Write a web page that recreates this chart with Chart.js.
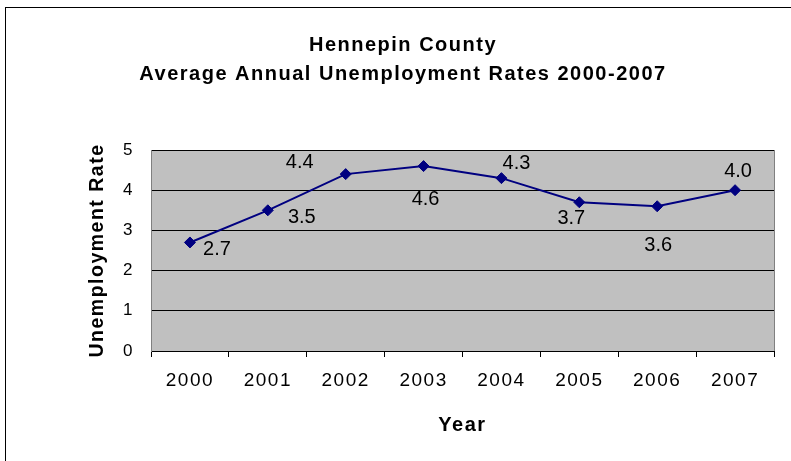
<!DOCTYPE html>
<html>
<head>
<meta charset="utf-8">
<script src="https://cdn.jsdelivr.net/npm/chart.js@4"></script>
<style>
  body { margin: 0; background: #fff; }
  #wrap { width: 791px; height: 461px; }
</style>
</head>
<body>
<div id="wrap"><canvas id="mycanvas" width="791" height="461"></canvas></div>
<script>
var years = ['2000', '2001', '2002', '2003', '2004', '2005', '2006', '2007'];
var rates = [2.7, 3.5, 4.4, 4.6, 4.3, 3.7, 3.6, 4.0];
var yTicks = [0, 1, 2, 3, 4, 5];

// where each value label sits relative to its marker (x, y in px)
var labelOffsets = [[27, 7], [34, 7], [-46, -12], [2, 33], [15, -15], [-8, 16], [1, 39], [3, -19]];

var FONT = '"Liberation Sans", Arial, sans-serif';

var frame = {
  id: 'frame',
  beforeDraw: function(chart) {
    var c = chart.ctx, a = chart.chartArea;
    c.save();
    c.strokeStyle = '#000';
    c.lineWidth = 1;
    c.strokeRect(5.5, 7.5, 900, 600);
    c.fillStyle = '#C0C0C0';
    c.fillRect(a.left, a.top, a.right - a.left, a.bottom - a.top);
    c.strokeStyle = '#808080';
    c.strokeRect(a.left + 0.5, a.top + 0.5, a.right - a.left, a.bottom - a.top);
    c.restore();
    // the old excel look has a bit of letter spacing in title / axis text
    c.letterSpacing = '1.5px';
  },
  beforeDatasetsDraw: function(chart) {
    chart.ctx.letterSpacing = '0px';
  },
  afterDatasetsDraw: function(chart) {
    var c = chart.ctx;
    var pts = chart.getDatasetMeta(0).data;
    c.save();
    c.font = '20px ' + FONT;
    c.fillStyle = '#000';
    c.textAlign = 'center';
    c.textBaseline = 'middle';
    pts.forEach(function(p, i) {
      c.fillText(rates[i].toFixed(1), p.x + labelOffsets[i][0], p.y + labelOffsets[i][1]);
    });
    c.restore();
  }
};

var ctx = document.getElementById('mycanvas');
var lineChart = new Chart(ctx, {
  type: 'line',
  data: {
    labels: years,
    datasets: [{
      data: rates,
      borderColor: '#000080',
      borderWidth: 2,
      backgroundColor: '#000080',
      pointStyle: 'rectRot',
      pointRadius: 5.5,
      pointBorderWidth: 1,
      tension: 0
    }]
  },
  options: {
    responsive: false,
    animation: false,
    layout: { padding: { left: 32, right: 17, top: 0, bottom: 0 } },
    plugins: {
      legend: { display: false },
      tooltip: { enabled: false },
      title: {
        display: true,
        text: ['Hennepin County', 'Average Annual Unemployment Rates 2000-2007'],
        color: '#000',
        font: { family: FONT, size: 20, weight: 'bold', lineHeight: '29px' },
        padding: { top: 31, bottom: 61 }
      }
    },
    scales: {
      x: {
        offset: true,
        grid: { display: true, drawOnChartArea: false, offset: true, tickLength: 6, color: '#000' },
        border: { color: '#000' },
        ticks: { color: '#000', padding: 12, font: { family: FONT, size: 19 } },
        title: {
          display: true,
          text: 'Year',
          color: '#000',
          font: { family: FONT, size: 20, weight: 'bold' },
          padding: { top: 0, bottom: 24 }
        },
        afterFit: function(scale) { scale.height = 110; }
      },
      y: {
        min: 0,
        max: 5,
        afterBuildTicks: function(scale) {
          scale.ticks = yTicks.map(function(v) { return { value: v }; });
        },
        grid: { color: '#000', drawTicks: false },
        border: { color: '#808080' },
        ticks: { color: '#000', padding: 17, font: { family: FONT, size: 17 } },
        title: {
          display: true,
          text: 'Unemployment Rate',
          color: '#000',
          font: { family: FONT, size: 19.5, weight: 'bold' },
          padding: { top: 54, bottom: 0 }
        },
        afterFit: function(scale) { scale.width = 119; }
      }
    }
  },
  plugins: [frame]
});
</script>
</body>
</html>
